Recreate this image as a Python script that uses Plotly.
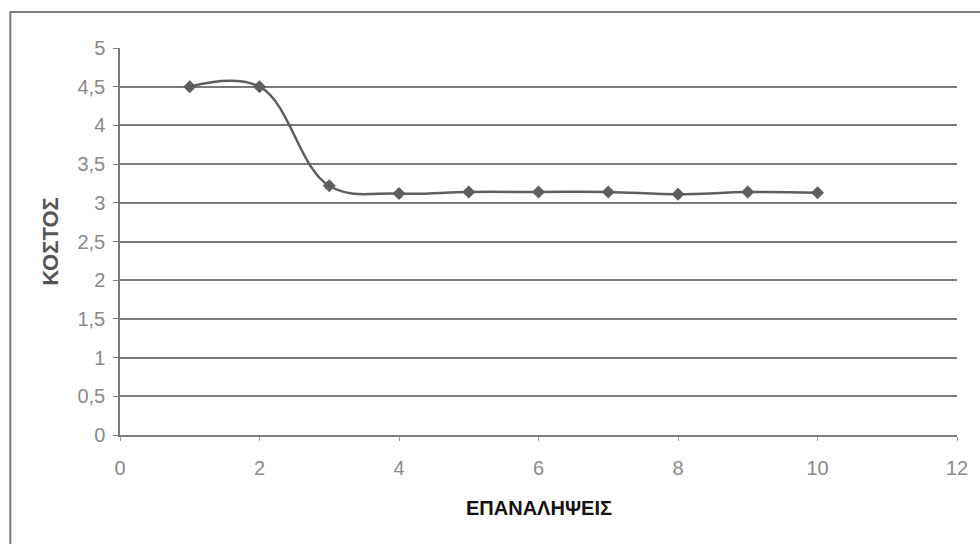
import plotly.graph_objects as go

iterations = [1, 2, 3, 4, 5, 6, 7, 8, 9, 10]
cost = [4.5, 4.5, 3.22, 3.12, 3.14, 3.14, 3.14, 3.11, 3.14, 3.13]
x_ticks = [0, 2, 4, 6, 8, 10, 12]
y_ticks = [0, 0.5, 1, 1.5, 2, 2.5, 3, 3.5, 4, 4.5, 5]
y_tick_text = ["0", "0,5", "1", "1,5", "2", "2,5", "3", "3,5", "4", "4,5", "5"]
x_title = "ΕΠΑΝΑΛΗΨΕΙΣ"
y_title = "ΚΟΣΤΟΣ"

fig = go.Figure()
fig.add_trace(go.Scatter(
    x=iterations, y=cost, mode="lines+markers",
    line=dict(color="#5e5e5e", width=2.5, shape="spline", smoothing=1.1),
    marker=dict(symbol="diamond", size=10, color="#5e5e5e"),
    showlegend=False,
))

tick_font = dict(family="Liberation Sans, Arial, sans-serif", size=20, color="#8a8a8a")

fig.update_layout(
    width=980, height=544,
    margin=dict(l=120, r=20, t=48, b=109),
    paper_bgcolor="white", plot_bgcolor="white",
    xaxis=dict(
        range=[0, 12], tickvals=x_ticks, ticktext=[str(v) for v in x_ticks],
        showgrid=False, zeroline=False, showline=True, linecolor="#7a7a7a", linewidth=1.5,
        ticks="outside", ticklen=4, tickcolor="#9a9a9a", tickfont=tick_font,
        ticklabelstandoff=10,
    ),
    yaxis=dict(
        range=[0, 5], tickvals=y_ticks, ticktext=y_tick_text,
        showgrid=True, gridcolor="#7a7a7a", gridwidth=1.5,
        zeroline=False, showline=True, linecolor="#7a7a7a", linewidth=1.5,
        ticks="outside", ticklen=5, tickcolor="#7a7a7a", tickfont=tick_font,
        ticklabelstandoff=4,
    ),
    shapes=[dict(type="rect", xref="paper", yref="paper",
                 x0=-0.131, y0=-0.35, x1=1.2, y1=1.093,
                 line=dict(color="#7a7a7a", width=2), fillcolor="rgba(0,0,0,0)", layer="below")],
    annotations=[
        dict(text=f"<b>{x_title}</b>", xref="paper", yref="paper", x=0.5, y=-0.189,
             showarrow=False, font=dict(family="Liberation Sans, Arial, sans-serif", size=20, color="#111"),
             xanchor="center", yanchor="middle"),
        dict(text=f"<b>{y_title}</b>", xref="paper", yref="paper", x=-0.0833, y=0.5,
             showarrow=False, textangle=-90,
             font=dict(family="Liberation Sans, Arial, sans-serif", size=22, color="#555"),
             xanchor="center", yanchor="middle"),
    ],
)

fig.write_html("out.html")
